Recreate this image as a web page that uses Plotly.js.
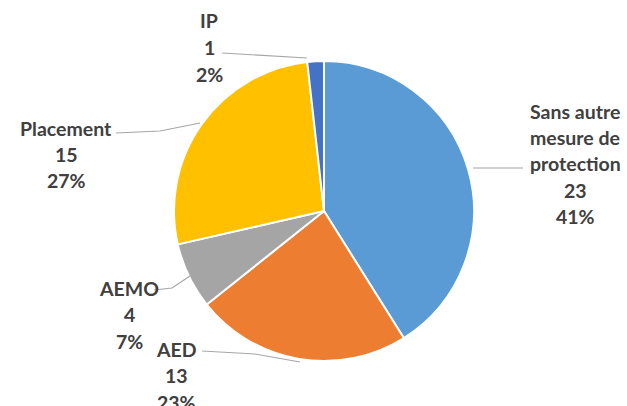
<!DOCTYPE html>
<html>
<head>
<meta charset="utf-8">
<script src="https://cdn.plot.ly/plotly-3.0.1.min.js"></script>
<style>html,body{margin:0;padding:0;background:#fff;}#chart{width:627px;height:406px;}</style>
</head>
<body>
<div id="chart"></div>
<script>
// Data
const categories = ["Sans autre<br>mesure de<br>protection", "AED", "AEMO", "Placement", "IP"];
const values = [23, 13, 4, 15, 1];
const colors = ["#5B9BD5", "#ED7D31", "#A5A5A5", "#FFC000", "#4472C4"];

// Layout helpers (pixel -> paper)
const W = 627, H = 406;
const px = x => x / W;
const py = y => 1 - y / H;

// label anchor positions (center x, first-line y) in pixels
const labelPos = [[575, 111], [177, 349], [129, 288], [66, 128], [209, 21]];
const lineGap = 26.5;
// leader line paths in pixels
const leaders = [
  [[473, 168], [523, 168]],
  [[202, 351], [255, 354], [300, 362]],
  [[154, 290], [172, 288], [190, 276]],
  [[116, 133], [160, 131], [200, 123]],
  [[222, 53], [307, 58]]
];

const total = values.reduce((a, b) => a + b, 0);
const annotations = [];
categories.forEach((c, i) => {
  const lines = c.split("<br>").concat([String(values[i]), Math.round(values[i] / total * 100) + "%"]);
  lines.forEach((t, k) => {
    annotations.push({
      xref: "paper", yref: "paper",
      x: px(labelPos[i][0]), y: py(labelPos[i][1] + k * lineGap),
      xanchor: "center", yanchor: "middle",
      text: "<b>" + t + "</b>", showarrow: false,
      font: {family: "Lato, 'Open Sans', sans-serif", size: 19.5, color: "#404040"}
    });
  });
});

const shapes = leaders.map(pts => ({
  type: "path", xref: "paper", yref: "paper",
  path: pts.map((p, k) => (k ? "L" : "M") + px(p[0]) + "," + py(p[1])).join(" "),
  line: {color: "#A6A6A6", width: 1.2}
}));

const trace = {
  type: "pie",
  labels: categories,
  values: values,
  sort: false,
  direction: "clockwise",
  rotation: 0,
  textinfo: "none",
  hoverinfo: "label+value+percent",
  marker: {colors: colors, line: {color: "#FFFFFF", width: 2}},
  domain: {x: [px(174), px(474)], y: [py(361), py(61)]},
  showlegend: false
};

Plotly.newPlot("chart", [trace], {
  width: W, height: H,
  margin: {l: 0, r: 0, t: 0, b: 0},
  paper_bgcolor: "#FFFFFF",
  annotations: annotations,
  shapes: shapes,
  showlegend: false
}, {displayModeBar: false, staticPlot: true});
</script>
</body>
</html>
